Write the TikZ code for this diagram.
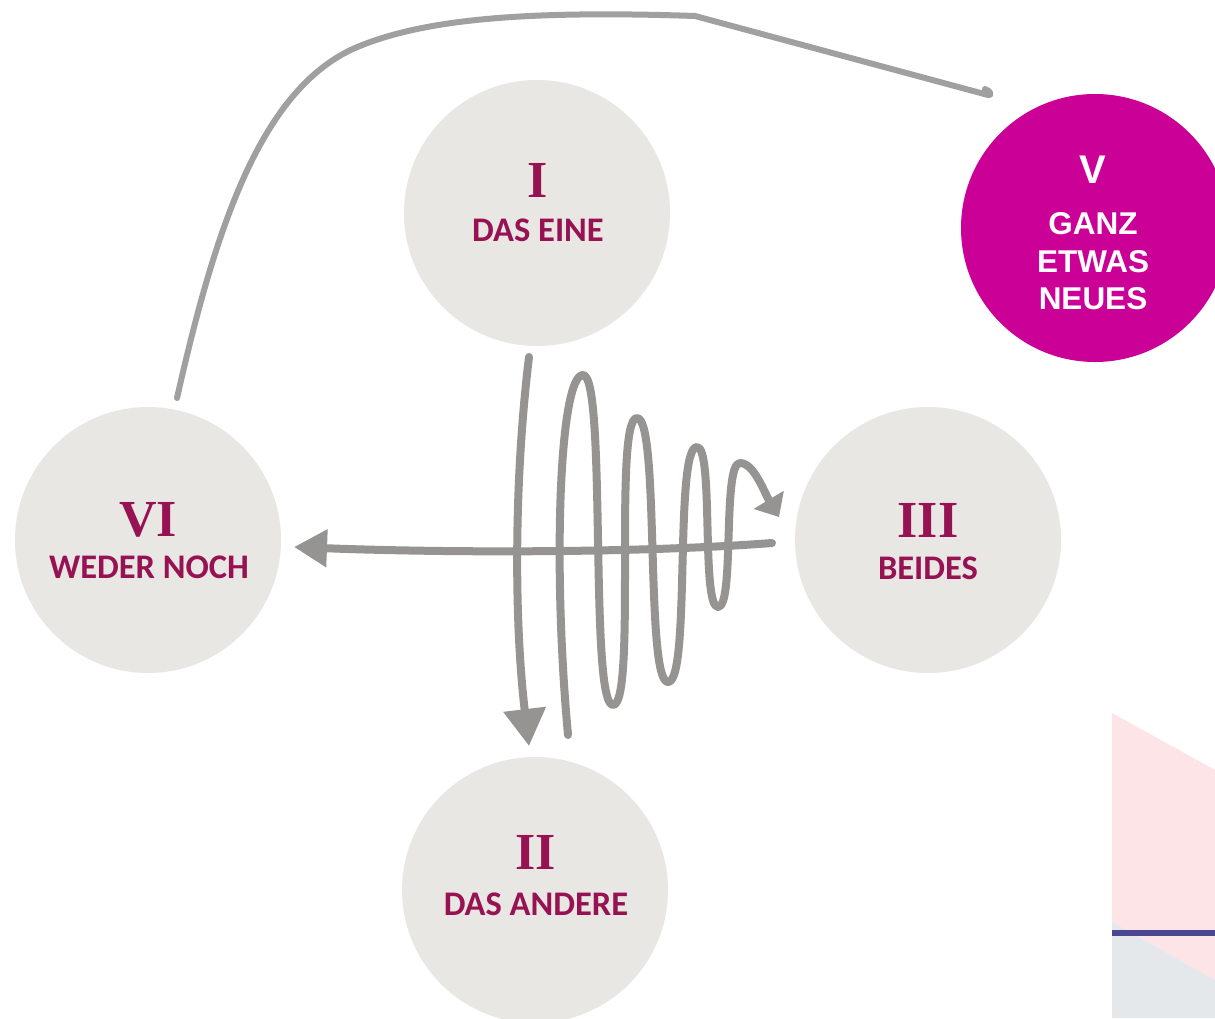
\documentclass[tikz,border=0pt]{standalone}
\usepackage{fontspec}
\usetikzlibrary{arrows.meta}
\newfontfamily\lblfont{Carlito}
\newfontfamily\romfont{Liberation Serif}
\newfontfamily\vfont{Liberation Sans}
\definecolor{circgray}{RGB}{233,231,228}
\definecolor{txtred}{RGB}{150,18,82}
\definecolor{magen}{RGB}{203,0,151}
\definecolor{arrgray}{RGB}{150,148,146}
\definecolor{curvegray}{RGB}{160,160,160}
\definecolor{pinkbg}{RGB}{252,228,231}
\definecolor{graybg}{RGB}{229,232,235}
\definecolor{barblue}{RGB}{75,70,145}
\begin{document}
\begin{tikzpicture}[x=1pt,y=-1pt,
  stage/.style={circle, fill=circgray, minimum size=266pt, inner sep=0pt},
  newstage/.style={circle, fill=magen, minimum size=268pt, inner sep=0pt},
  numeral/.style={text=txtred, inner sep=0pt, font=\romfont\bfseries\fontsize{52}{54}\selectfont},
  lbl/.style={text=txtred, inner sep=0pt, font=\lblfont\bfseries\fontsize{34.5}{40}\selectfont},
  vnum/.style={text=white, inner sep=0pt, font=\vfont\bfseries\fontsize{40}{42}\selectfont},
  vtext/.style={text=white, inner sep=0pt, font=\vfont\bfseries\fontsize{31.5}{36}\selectfont},
  flow/.style={draw=arrgray, line width=8pt, line cap=round},
  topline/.style={draw=curvegray, line width=6pt, line cap=round, line join=round},
]
\useasboundingbox (0,0) rectangle (1215,1018);
\fill[white] (0,0) rectangle (1215,1018);
\clip (0,0) rectangle (1215,1018);

% bottom-right decoration
\fill[pinkbg] (1112,713) -- (1215,770) -- (1215,980) -- (1112,922) -- cycle;
\fill[graybg] (1112,922) -- (1215,980) -- (1215,1018) -- (1112,1018) -- cycle;
\fill[barblue] (1112,930) rectangle (1215,936);

% circles
\node[stage] (I) at (537,213) {};
\node[stage] (II) at (535,890) {};
\node[stage] (III) at (928,540) {};
\node[stage] (VI) at (148,540) {};
\node[newstage] (V) at (1095,228) {};

% texts
\node[numeral] (tI) at (538,180) {I};
\node[lbl] (lI) at (538,230) {DAS EINE};
\node[numeral] (tII) at (536,852) {II};
\node[lbl] (lII) at (536,904) {DAS ANDERE};
\node[numeral] (tIII) at (928,520) {III};
\node[lbl] (lIII) at (928,568) {BEIDES};
\node[numeral] (tVI) at (148,520) {VI};
\node[lbl] (lVI) at (149,567) {WEDER NOCH};
\node[vnum] (tV) at (1093,170) {V};
\node[vtext] (l1V) at (1093,224) {GANZ};
\node[vtext] (l2V) at (1093,262) {ETWAS};
\node[vtext] (l3V) at (1093,299) {NEUES};

% connector coordinates
\coordinate (sVI) at (177,398);
\coordinate (eV) at (988,95);
\coordinate (sI) at (529,357);
\coordinate (eII) at (529,746);
\coordinate (sIII) at (772,543);
\coordinate (eVI) at (294,547);
\coordinate (spS) at (568,735);
\coordinate (spE) at (779,517);

% top curve from VI to V
\draw[topline] (sVI) .. controls (215,230) and (260,90) .. (355,48)
  .. controls (420,20) and (520,10) .. (695,16) -- (eV)
  .. controls (992,96) and (991,91) .. (985,89);

% arrow from I down to II
\draw[flow, -{Triangle[length=37pt,width=41pt]}] (sI) .. controls (514,480) and (514,620) .. (eII);

% arrow from III to VI
\draw[flow, -{Triangle[length=33pt,width=36pt]}] (sIII) .. controls (640,553) and (450,553) .. (eVI);

% oscillating arrow towards III
\draw[flow, line join=round, -{Triangle[length=20pt,width=34pt]}] (spS)
  .. controls (552,560) and (560,375) .. (583,375)
  .. controls (607,375) and (589,705) .. (613,705)
  .. controls (637,705) and (613,418) .. (637,418)
  .. controls (660,418) and (645,682) .. (668,682)
  .. controls (691,682) and (674,447) .. (697,447)
  .. controls (714,447) and (701,607) .. (718,607)
  .. controls (735,607) and (722,463) .. (740,463)
  .. controls (754,463) and (764,492) .. (spE);
\end{tikzpicture}
\end{document}
